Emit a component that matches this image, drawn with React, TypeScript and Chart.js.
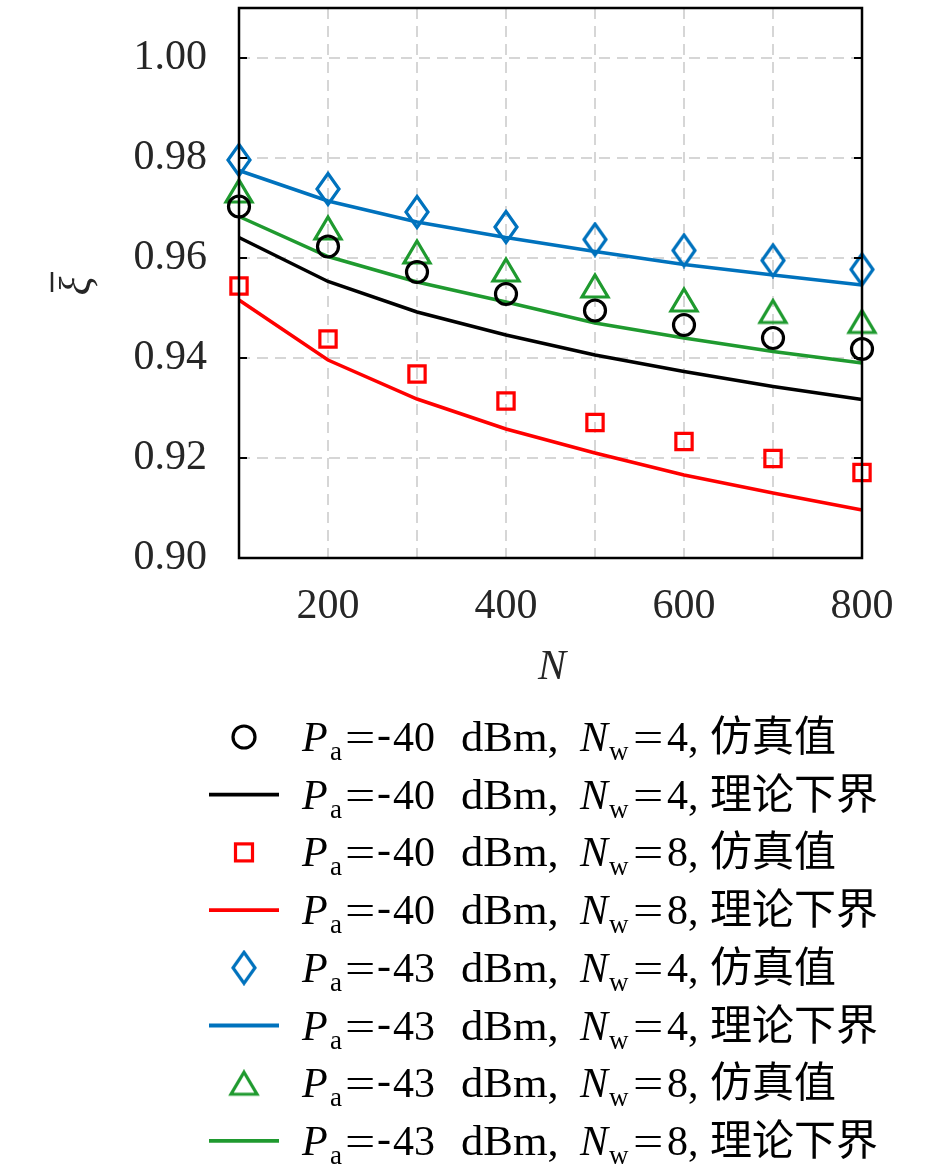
import React, { useEffect, useRef } from "react";
import { Chart, registerables } from "chart.js";

Chart.register(...registerables);

// N on the x axis
const nValues = [100, 200, 300, 400, 500, 600, 700, 800];
const yTickValues = [0.9, 0.92, 0.94, 0.96, 0.98, 1.0];

// Pa = -40 dBm
const sim40w4 = [0.9703, 0.9623, 0.9572, 0.9528, 0.9495, 0.9466, 0.944, 0.9418];
const bound40w4 = [0.9641, 0.9553, 0.9492, 0.9446, 0.9406, 0.9373, 0.9343, 0.9317];
const sim40w8 = [0.9544, 0.9438, 0.9368, 0.9314, 0.9271, 0.9233, 0.9199, 0.9171];
const bound40w8 = [0.9516, 0.9396, 0.9318, 0.9258, 0.921, 0.9166, 0.913, 0.9096];

// Pa = -43 dBm
const sim43w4 = [0.9796, 0.9738, 0.9692, 0.9662, 0.9637, 0.9615, 0.9595, 0.9577];
const bound43w4 = [0.9775, 0.9714, 0.9672, 0.9641, 0.9613, 0.9587, 0.9566, 0.9546];
const sim43w8 = [0.9734, 0.966, 0.9612, 0.9576, 0.9544, 0.9516, 0.9493, 0.9473];
const bound43w8 = [0.9683, 0.9603, 0.9552, 0.9512, 0.947, 0.944, 0.9413, 0.939];

const paLabels = ["40", "40", "40", "40", "43", "43", "43", "43"];
const nwLabels = ["4", "4", "8", "8", "4", "4", "8", "8"];
const kindLabels = ["仿真值", "理论下界", "仿真值", "理论下界", "仿真值", "理论下界", "仿真值", "理论下界"];

const BLACK = "#000000";
const RED = "#ff0000";
const BLUE = "#0072bd";
const GREEN = "#1f9a2f";
const TEXT = "#262626";
const SERIF = "'Liberation Serif', 'Times New Roman', serif";
const CJK = "'Noto Sans CJK SC', sans-serif";

const makeDiamond = () => {
  const c = document.createElement("canvas");
  c.width = 28;
  c.height = 36;
  const ctx = c.getContext("2d")!;
  ctx.strokeStyle = BLUE;
  ctx.lineWidth = 3.2;
  ctx.beginPath();
  ctx.moveTo(14, 2.5);
  ctx.lineTo(25, 18);
  ctx.lineTo(14, 33.5);
  ctx.lineTo(3, 18);
  ctx.closePath();
  ctx.stroke();
  return c;
};

const makeTriangle = () => {
  const c = document.createElement("canvas");
  c.width = 32;
  c.height = 28;
  const ctx = c.getContext("2d")!;
  ctx.strokeStyle = GREEN;
  ctx.lineWidth = 3.2;
  ctx.beginPath();
  ctx.moveTo(16, 3);
  ctx.lineTo(29, 25);
  ctx.lineTo(3, 25);
  ctx.closePath();
  ctx.stroke();
  return c;
};

const pts = (ys: number[]) => nValues.map((x, i) => ({ x, y: ys[i] }));

const App: React.FC = () => {
  const canvas = useRef<HTMLCanvasElement>(null);

  useEffect(() => {
    const diamond = makeDiamond();
    const triangle = makeTriangle();

    const marker = (label: string, ys: number[], color: string, style: any, radius: number) => ({
      label,
      data: pts(ys),
      showLine: false,
      borderColor: color,
      backgroundColor: "transparent",
      pointStyle: style,
      pointRadius: radius,
      pointBorderWidth: 3.2,
      pointBackgroundColor: "transparent",
      pointBorderColor: color,
      clip: false as const,
    });
    const curve = (label: string, ys: number[], color: string) => ({
      label,
      data: pts(ys),
      borderColor: color,
      backgroundColor: color,
      borderWidth: 3.5,
      pointRadius: 0,
      tension: 0,
      clip: false as const,
    });

    const legendStyles: { line: boolean; color: string; style: any }[] = [
      { line: false, color: BLACK, style: "circle" },
      { line: true, color: BLACK, style: null },
      { line: false, color: RED, style: "rect" },
      { line: true, color: RED, style: null },
      { line: false, color: BLUE, style: diamond },
      { line: true, color: BLUE, style: null },
      { line: false, color: GREEN, style: triangle },
      { line: true, color: GREEN, style: null },
    ];

    const decor = {
      id: "decor",
      afterDraw(chart: Chart) {
        const ctx = chart.ctx;
        const { left, right, top, bottom } = chart.chartArea;
        const yScale = chart.scales.y;
        ctx.save();

        // box
        ctx.strokeStyle = BLACK;
        ctx.lineWidth = 2.5;
        ctx.setLineDash([]);
        ctx.strokeRect(left, top, right - left, bottom - top);

        // inward ticks
        ctx.lineWidth = 2;
        yScale.ticks.forEach(t => {
          const py = yScale.getPixelForValue(t.value);
          ctx.beginPath();
          ctx.moveTo(left, py);
          ctx.lineTo(left + 8, py);
          ctx.moveTo(right, py);
          ctx.lineTo(right - 8, py);
          ctx.stroke();
        });

        // x title
        ctx.fillStyle = TEXT;
        ctx.font = `italic 42px ${SERIF}`;
        ctx.textAlign = "center";
        ctx.textBaseline = "middle";
        ctx.fillText("N", 552, 668);

        // y title: xi with bar, rotated
        ctx.save();
        ctx.translate(90, 286);
        ctx.rotate(-Math.PI / 2);
        ctx.font = `italic 44px ${SERIF}`;
        ctx.textAlign = "center";
        ctx.textBaseline = "alphabetic";
        ctx.fillText("ξ", 0, 0);
        ctx.strokeStyle = TEXT;
        ctx.lineWidth = 2.5;
        ctx.beginPath();
        ctx.moveTo(-6, -38);
        ctx.lineTo(14, -38);
        ctx.stroke();
        ctx.restore();

        // legend
        ctx.textAlign = "left";
        ctx.textBaseline = "alphabetic";
        legendStyles.forEach((s, i) => {
          const ry = 737 + i * 57.7;
          const cx = 244;
          ctx.strokeStyle = s.color;
          ctx.lineWidth = 3.2;
          if (s.line) {
            ctx.lineWidth = 3.8;
            ctx.beginPath();
            ctx.moveTo(209, ry);
            ctx.lineTo(279, ry);
            ctx.stroke();
          } else if (s.style === "circle") {
            ctx.beginPath();
            ctx.arc(cx, ry, 11, 0, Math.PI * 2);
            ctx.stroke();
          } else if (s.style === "rect") {
            ctx.strokeRect(cx - 8.5, ry - 8.5, 17, 17);
          } else {
            ctx.drawImage(s.style, cx - s.style.width / 2, ry - s.style.height / 2);
          }

          const base = ry + 14;
          ctx.fillStyle = BLACK;
          const seg = (t: string, font: string, x: number, dy = 0, sx = 1) => {
            ctx.font = font;
            ctx.save();
            ctx.translate(x, base + dy);
            ctx.scale(sx, 1);
            ctx.fillText(t, 0, 0);
            ctx.restore();
          };
          const up = `42px ${SERIF}`;
          const it = `italic 42px ${SERIF}`;
          const sub = `27px ${SERIF}`;
          seg("P", it, 302);
          seg("a", sub, 330, 9);
          seg("=", up, 345, 0, 1.28);
          seg("-", up, 377, -3);
          seg(paLabels[i], up, 393);
          seg("dBm,", up, 461, 0, 1.06);
          seg("N", it, 580);
          seg("w", sub, 609, 9);
          seg("=", up, 633, 0, 1.28);
          seg(nwLabels[i] + ",", up, 667);
          seg(kindLabels[i], `42px ${CJK}`, 710);
        });

        ctx.restore();
      },
    };

    const chart = new Chart(canvas.current!.getContext("2d")!, {
      type: "line",
      data: {
        datasets: [
          marker("Pa=-40 dBm, Nw=4, 仿真值", sim40w4, BLACK, "circle", 10.5),
          marker("Pa=-40 dBm, Nw=8, 仿真值", sim40w8, RED, "rect", 11.5),
          marker("Pa=-43 dBm, Nw=4, 仿真值", sim43w4, BLUE, diamond, 12),
          marker("Pa=-43 dBm, Nw=8, 仿真值", sim43w8, GREEN, triangle, 12),
          curve("Pa=-40 dBm, Nw=4, 理论下界", bound40w4, BLACK),
          curve("Pa=-40 dBm, Nw=8, 理论下界", bound40w8, RED),
          curve("Pa=-43 dBm, Nw=4, 理论下界", bound43w4, BLUE),
          curve("Pa=-43 dBm, Nw=8, 理论下界", bound43w8, GREEN),
        ] as any,
      },
      options: {
        animation: false,
        responsive: true,
        maintainAspectRatio: false,
        layout: {
          autoPadding: false,
          padding: { left: 0, top: 8, right: 83, bottom: 514 },
        },
        plugins: {
          legend: { display: false },
          tooltip: { enabled: false },
        },
        scales: {
          x: {
            type: "linear",
            min: 100,
            max: 800,
            afterFit: (scale: any) => {
              scale.height = 100;
              scale.paddingLeft = 0;
              scale.paddingRight = 0;
            },
            ticks: {
              stepSize: 100,
              autoSkip: false,
              maxRotation: 0,
              padding: 24,
              color: TEXT,
              font: { family: SERIF, size: 42 },
              callback: (v: any) => (v % 200 === 0 ? String(v) : ""),
            },
            grid: {
              color: "rgba(0,0,0,0.16)",
              lineWidth: 2,
              drawTicks: false,
            },
            border: { display: false, dash: [11, 7] },
          },
          y: {
            type: "linear",
            min: 0.9,
            max: 1.01,
            afterBuildTicks: (scale: any) => {
              scale.ticks = yTickValues.map(v => ({ value: v }));
            },
            afterFit: (scale: any) => {
              scale.width = 239;
              scale.paddingTop = 0;
              scale.paddingBottom = 0;
            },
            ticks: {
              padding: 32,
              color: TEXT,
              font: { family: SERIF, size: 42 },
              callback: (v: any) => Number(v).toFixed(2),
            },
            grid: {
              color: "rgba(0,0,0,0.16)",
              lineWidth: 2,
              drawTicks: false,
            },
            border: { display: false, dash: [11, 7] },
          },
        },
      },
      plugins: [decor],
    });

    return () => {
      chart.destroy();
    };
  }, []);

  return (
    <div style={{ position: "absolute", left: 0, top: 0, width: 945, height: 1172, background: "#fff" }}>
      <canvas ref={canvas}></canvas>
    </div>
  );
};

export default App;
